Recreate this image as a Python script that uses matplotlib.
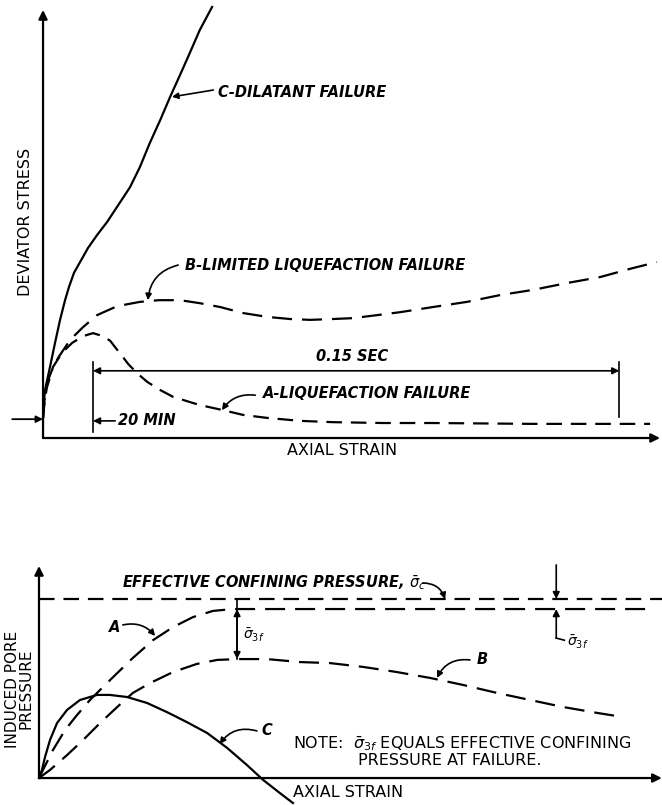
import matplotlib
matplotlib.use("Agg")
import matplotlib.pyplot as plt

# Upper plot: deviator stress vs axial strain (arbitrary units, 0-100)
top_c_strain = [0, 0.1, 0.32, 1.13, 1.94, 2.76, 3.57, 4.21, 5.02, 6.0, 7.29,
                8.75, 10.4, 12.0, 14.1, 15.7, 17.3, 19.0, 20.6, 22.2, 23.8,
                25.4, 27.4]
top_c_stress = [4.7, 7.7, 11.2, 16.6, 22.2, 27.6, 32.2, 35.3, 38.6, 41.1, 44.4,
                47.4, 50.5, 54.0, 58.6, 63.3, 68.9, 74.3, 79.7, 84.8, 90.0,
                95.3, 100.7]

top_b_strain = [0, 0.16, 0.32, 0.65, 1.46, 2.43, 4.38, 6.48, 8.75, 12.0, 15.7,
                18.8, 22.2, 25.4, 28.7, 32.4, 36.3, 40.0, 43.3, 47.0, 50.2,
                54.1, 57.9, 63.2, 68.7, 74.1, 79.4, 84.9, 90.3, 95.6, 99.5]
top_b_stress = [4.7, 7.7, 10.0, 12.9, 15.9, 18.7, 22.9, 25.9, 28.7, 30.8, 31.8,
                32.2, 32.2, 31.5, 30.6, 29.2, 28.3, 27.8, 27.6, 27.8, 28.0,
                28.7, 29.4, 30.6, 31.8, 33.4, 34.6, 36.2, 37.6, 39.7, 41.1]

top_a_strain = [0, 0.16, 0.32, 0.65, 1.62, 3.08, 4.70, 6.48, 8.10, 9.72, 10.9,
                11.8, 12.8, 13.8, 15.2, 16.9, 19.0, 21.1, 23.8, 25.4, 29.2,
                32.4, 36.3, 41.7, 47.0, 55.1, 63.2, 79.4, 98.4]
top_a_stress = [4.7, 7.0, 9.3, 11.9, 16.6, 19.9, 22.2, 23.8, 24.5, 23.8, 22.7,
                21.0, 19.2, 17.3, 15.2, 13.1, 11.2, 9.6, 8.4, 7.7, 6.5,
                5.4, 4.7, 4.0, 3.7, 3.5, 3.5, 3.3, 3.3]

initial_stress = 4.4
t_20min = 8.1
t_015sec = 93.4

# Lower plot: induced pore pressure vs axial strain
confining = 84.4
bot_a_strain = [0, 0.64, 2.25, 4.19, 6.12, 8.21, 10.3, 12.6, 15.1, 18.4, 21.6,
                24.8, 28.0, 31.2, 97.9]
bot_a_press = [0, 3.8, 13.2, 22.6, 29.7, 36.8, 42.9, 49.5, 56.6, 65.1, 71.2,
               75.9, 78.8, 79.7, 79.7]

bot_b_strain = [0, 1.77, 4.51, 7.09, 9.82, 12.6, 15.1, 17.9, 21.6, 25.4, 28.7,
                31.9, 36.7, 42.0, 46.9, 52.2, 57.6, 63.0, 68.3, 73.8, 79.1,
                84.4, 89.9, 94.0]
bot_b_press = [0, 3.8, 10.8, 17.9, 25.9, 33.5, 40.1, 44.8, 50.0, 53.8, 55.7,
               56.1, 56.1, 54.7, 54.2, 52.4, 50.0, 47.2, 43.9, 40.1, 36.8,
               33.5, 30.7, 28.8]

bot_c_strain = [0, 0.48, 0.97, 1.77, 2.90, 4.51, 6.60, 9.34, 11.4, 14.2, 17.4,
                20.6, 23.8, 27.1, 30.3, 33.5, 36.1, 38.8, 40.9]
bot_c_press = [0, 3.8, 9.9, 17.9, 25.9, 32.1, 36.8, 39.2, 39.2, 38.2, 35.4,
               31.1, 26.4, 21.2, 14.2, 6.1, -0.9, -7.1, -11.8]

INK = "black"
LW = 1.6
DASH = (0, (9, 4.5))
SHORT_DASH = (0, (7, 4))
LABEL = dict(fontsize=10.5, style="italic", weight="bold", color=INK)
AXLABEL = dict(fontsize=11.5, color=INK)


def arrow(ax, start, end, style="-|>", rad=0.0, lw=1.3, scale=11):
    ax.annotate("", xy=end, xytext=start,
                arrowprops=dict(arrowstyle=style, color=INK, lw=lw,
                                shrinkA=0, shrinkB=0, mutation_scale=scale,
                                connectionstyle=f"arc3,rad={rad}"),
                annotation_clip=False)


def bare(ax):
    ax.set_xlim(0, 100)
    ax.set_ylim(0, 100)
    ax.axis("off")


fig = plt.figure(figsize=(6.62, 8.05), dpi=100)

# ---------------------------------------------------------------------------
# Deviator stress
# ---------------------------------------------------------------------------
ax1 = fig.add_axes([0.065, 0.4559, 0.932, 0.5317])
bare(ax1)

arrow(ax1, (0, 0), (0, 100), lw=LW, scale=13)
arrow(ax1, (0, 0), (100, 0), lw=LW, scale=13)
arrow(ax1, (-5.0, initial_stress), (0, initial_stress), scale=10)

ax1.plot(top_c_strain, top_c_stress, color=INK, lw=LW, clip_on=False)
ax1.plot(top_b_strain, top_b_stress, color=INK, lw=LW, ls=DASH, clip_on=False)
ax1.plot(top_a_strain, top_a_stress, color=INK, lw=LW, ls=SHORT_DASH,
         clip_on=False)

# time markers
ax1.plot([t_20min, t_20min], [1.4, 17.8], color=INK, lw=1.2)
ax1.plot([t_015sec, t_015sec], [4.9, 17.8], color=INK, lw=1.2)
arrow(ax1, (t_20min, 15.7), (t_015sec, 15.7), style="<|-|>", lw=1.2, scale=10)
arrow(ax1, (11.7, 4.0), (t_20min, 4.0), lw=1.2, scale=10)
ax1.text(12.2, 4.0, "20 MIN", va="center", ha="left", **LABEL)
ax1.text(50.1, 17.3, "0.15 SEC", va="bottom", ha="center", **LABEL)

# curve labels
ax1.text(28.4, 80.8, "C-DILATANT FAILURE", va="center", ha="left", **LABEL)
arrow(ax1, (27.6, 81.3), (20.9, 79.7), lw=1.2, scale=9)
ax1.text(23.0, 40.4, "B-LIMITED LIQUEFACTION FAILURE", va="center",
         ha="left", **LABEL)
arrow(ax1, (21.9, 40.4), (17.0, 32.2), rad=0.35, lw=1.2, scale=9)
ax1.text(35.7, 10.5, "A-LIQUEFACTION FAILURE", va="center", ha="left",
         **LABEL)
arrow(ax1, (34.4, 10.0), (29.0, 6.5), rad=0.3, lw=1.2, scale=9)

ax1.text(-1.6, 50.5, "DEVIATOR STRESS", rotation=90, va="center",
         ha="right", **AXLABEL)
ax1.text(39.5, -3.0, "AXIAL STRAIN", va="center", ha="left", **AXLABEL)

# ---------------------------------------------------------------------------
# Induced pore pressure
# ---------------------------------------------------------------------------
ax2 = fig.add_axes([0.0589, 0.0335, 0.938, 0.2634])
bare(ax2)

arrow(ax2, (0, 0), (0, 100), lw=LW, scale=13)
arrow(ax2, (0, 0), (100.3, 0), lw=LW, scale=13)

ax2.plot([0, 100.3], [confining, confining], color=INK, lw=LW, ls=SHORT_DASH,
         clip_on=False)
ax2.plot(bot_a_strain, bot_a_press, color=INK, lw=LW, ls=DASH, clip_on=False)
ax2.plot(bot_b_strain, bot_b_press, color=INK, lw=LW, ls=DASH, clip_on=False)
ax2.plot(bot_c_strain, bot_c_press, color=INK, lw=LW, clip_on=False)

# sigma_3f dimension between A plateau and B peak
a_peak = max(bot_a_press)
b_peak = max(bot_b_press)
x_b_peak = bot_b_strain[bot_b_press.index(b_peak)]
ax2.plot([x_b_peak, x_b_peak], [b_peak, confining], color=INK, lw=1.2)
arrow(ax2, (x_b_peak, b_peak), (x_b_peak, a_peak), style="<|-|>", lw=1.2,
      scale=10)
ax2.text(x_b_peak + 1.0, 67.5, r"$\bar{\sigma}_{3f}$", va="center",
         ha="left", fontsize=10, color=INK)

# sigma_3f dimension between confining line and A plateau
x_dim = 83.3
arrow(ax2, (x_dim, 100.5), (x_dim, confining), lw=1.2, scale=10)
arrow(ax2, (x_dim, 66.0), (x_dim, a_peak), lw=1.2, scale=10)
ax2.plot([x_dim, x_dim + 1.3], [66.0, 65.0], color=INK, lw=1.2)
ax2.text(x_dim + 1.8, 64.2, r"$\bar{\sigma}_{3f}$", va="center", ha="left",
         fontsize=10, color=INK)

ax2.text(13.4, 92.0, r"EFFECTIVE CONFINING PRESSURE, $\bar{\sigma}_c$",
         va="center", ha="left", **LABEL)
arrow(ax2, (61.8, 92.0), (65.4, confining), rad=-0.35, lw=1.2, scale=9)

ax2.text(12.2, 71.2, "A", va="center", ha="center", **LABEL)
arrow(ax2, (13.5, 72.2), (18.7, 67.0), rad=-0.3, lw=1.2, scale=9)
ax2.text(70.5, 55.7, "B", va="center", ha="left", **LABEL)
arrow(ax2, (69.4, 55.7), (64.1, 47.2), rad=0.35, lw=1.2, scale=9)
ax2.text(35.9, 22.2, "C", va="center", ha="left", **LABEL)
arrow(ax2, (35.1, 22.2), (29.1, 16.0), rad=0.35, lw=1.2, scale=9)

ax2.text(40.9, 16.5,
         r"NOTE:  $\bar{\sigma}_{3f}$ EQUALS EFFECTIVE CONFINING",
         va="center", ha="left", **AXLABEL)
ax2.text(51.4, 8.5, "PRESSURE AT FAILURE.", va="center", ha="left",
         **AXLABEL)

ax2.text(-0.9, 42.0, "INDUCED PORE\nPRESSURE", rotation=90, va="center",
         ha="right", multialignment="center", linespacing=0.85,
         fontsize=11, color=INK)
ax2.text(40.9, -6.6, "AXIAL STRAIN", va="center", ha="left", **AXLABEL)

fig.savefig("out.png", dpi=100)
